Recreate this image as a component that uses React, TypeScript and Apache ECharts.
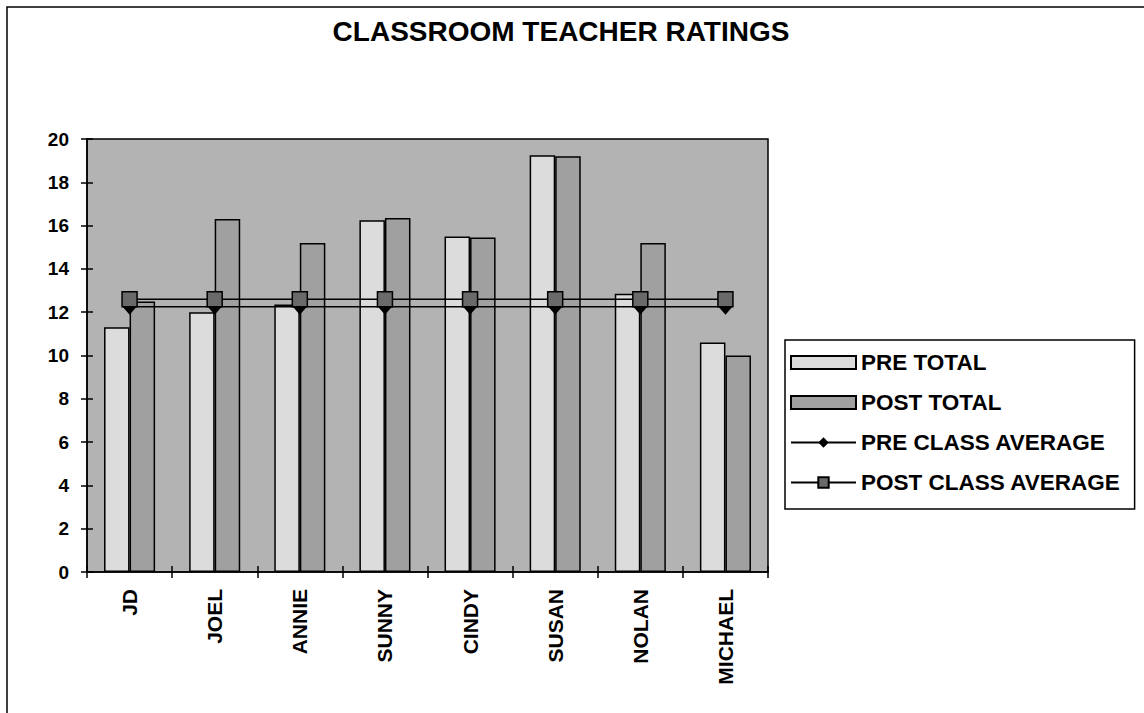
import React, { useEffect, useRef } from "react";
import * as echarts from "echarts";

const categories = ["JD", "JOEL", "ANNIE", "SUNNY", "CINDY", "SUSAN", "NOLAN", "MICHAEL"];
const preTotal = [11.3, 12.0, 12.35, 16.25, 15.5, 19.25, 12.85, 10.6];
const postTotal = [12.5, 16.3, 15.2, 16.35, 15.45, 19.2, 15.2, 10.0];
const preClassAverage = [12.25, 12.25, 12.25, 12.25, 12.25, 12.25, 12.25, 12.25];
const postClassAverage = [12.6, 12.6, 12.6, 12.6, 12.6, 12.6, 12.6, 12.6];
const yMin = 0;
const yMax = 20;
const yStep = 2;
const titleText = "CLASSROOM TEACHER RATINGS";
const seriesNames = ["PRE TOTAL", "POST TOTAL", "PRE CLASS AVERAGE", "POST CLASS AVERAGE"];

export default function App() {
  const ref = useRef<HTMLDivElement>(null);
  useEffect(() => {
    const chart = echarts.init(ref.current!, null, { renderer: "svg" });
    const font = "'Liberation Sans', Arial, sans-serif";
    const black = "#000";
    const axisBase = {
      min: yMin,
      max: yMax,
      interval: yStep,
      splitLine: { show: false },
    };
    chart.setOption({
      animation: false,
      backgroundColor: "#fff",
      textStyle: { fontFamily: font },
      graphic: [
        {
          type: "rect",
          shape: { x: 7, y: 7, width: 1160, height: 730 },
          style: { fill: "none", stroke: black, lineWidth: 1.5 },
          silent: true,
        },
        {
          type: "text",
          x: 561,
          y: 31,
          style: {
            text: titleText,
            fontFamily: font,
            fontWeight: "bold",
            fontSize: 28,
            fill: black,
            align: "center",
            verticalAlign: "middle",
          },
        },
      ],
      grid: {
        left: 87,
        right: 376,
        top: 139,
        bottom: 141,
        show: true,
        backgroundColor: "#b3b3b3",
        borderColor: black,
        borderWidth: 1.5,
        containLabel: false,
      },
      legend: {
        orient: "vertical",
        left: 785,
        top: 340,
        padding: [11, 14, 15, 5],
        itemWidth: 65,
        itemHeight: 13,
        itemGap: 17,
        borderColor: black,
        borderWidth: 1.5,
        backgroundColor: "#fff",
        textStyle: { fontFamily: font, fontWeight: "bold", fontSize: 22.5, color: black, lineHeight: 22 },
        data: [
          { name: seriesNames[0], icon: "rect" },
          { name: seriesNames[1], icon: "rect" },
          { name: seriesNames[2] },
          { name: seriesNames[3] },
        ],
      },
      xAxis: [
        {
          type: "category",
          data: categories,
          position: "bottom",
          axisLine: { lineStyle: { color: black, width: 1.5 } },
          axisTick: { show: true, length: 6, lineStyle: { color: black, width: 1.5 } },
          axisLabel: {
            rotate: 90,
            margin: 17,
            fontFamily: font,
            fontWeight: "bold",
            fontSize: 21,
            color: black,
          },
        },
        {
          type: "category",
          data: categories,
          position: "bottom",
          axisLine: { show: false },
          axisTick: { show: true, inside: true, length: 6, lineStyle: { color: black, width: 1.5 } },
          axisLabel: { show: false },
        },
      ],
      yAxis: [
        {
          type: "value",
          ...axisBase,
          axisLine: { show: true, lineStyle: { color: black, width: 1.5 } },
          axisTick: { show: true, length: 6, lineStyle: { color: black, width: 1.5 } },
          axisLabel: {
            margin: 18,
            fontFamily: font,
            fontWeight: "bold",
            fontSize: 19,
            color: black,
          },
        },
        {
          type: "value",
          position: "left",
          ...axisBase,
          axisLine: { show: false },
          axisTick: { show: true, inside: true, length: 6, lineStyle: { color: black, width: 1.5 } },
          axisLabel: { show: false },
        },
      ],
      series: [
        {
          name: seriesNames[0],
          type: "bar",
          data: preTotal,
          barGap: "0%",
          barCategoryGap: "40%",
          itemStyle: { color: "#dcdcdc", borderColor: black, borderWidth: 1.5 },
        },
        {
          name: seriesNames[1],
          type: "bar",
          data: postTotal,
          barGap: "0%",
          barCategoryGap: "40%",
          itemStyle: { color: "#a0a0a0", borderColor: black, borderWidth: 1.5 },
        },
        {
          name: seriesNames[2],
          type: "line",
          data: preClassAverage,
          symbol: "diamond",
          symbolSize: [14, 16],
          itemStyle: { color: black },
          lineStyle: { color: black, width: 1.5 },
          z: 5,
        },
        {
          name: seriesNames[3],
          type: "line",
          data: postClassAverage,
          symbol: "rect",
          symbolSize: 15,
          itemStyle: { color: "#6a6a6a", borderColor: black, borderWidth: 1.5 },
          lineStyle: { color: black, width: 1.5 },
          z: 6,
        },
      ],
    });
    return () => chart.dispose();
  }, []);
  return (
    <div
      ref={ref}
      style={{ position: "fixed", left: 0, top: 0, width: 1144, height: 713, background: "#fff" }}
    />
  );
}
